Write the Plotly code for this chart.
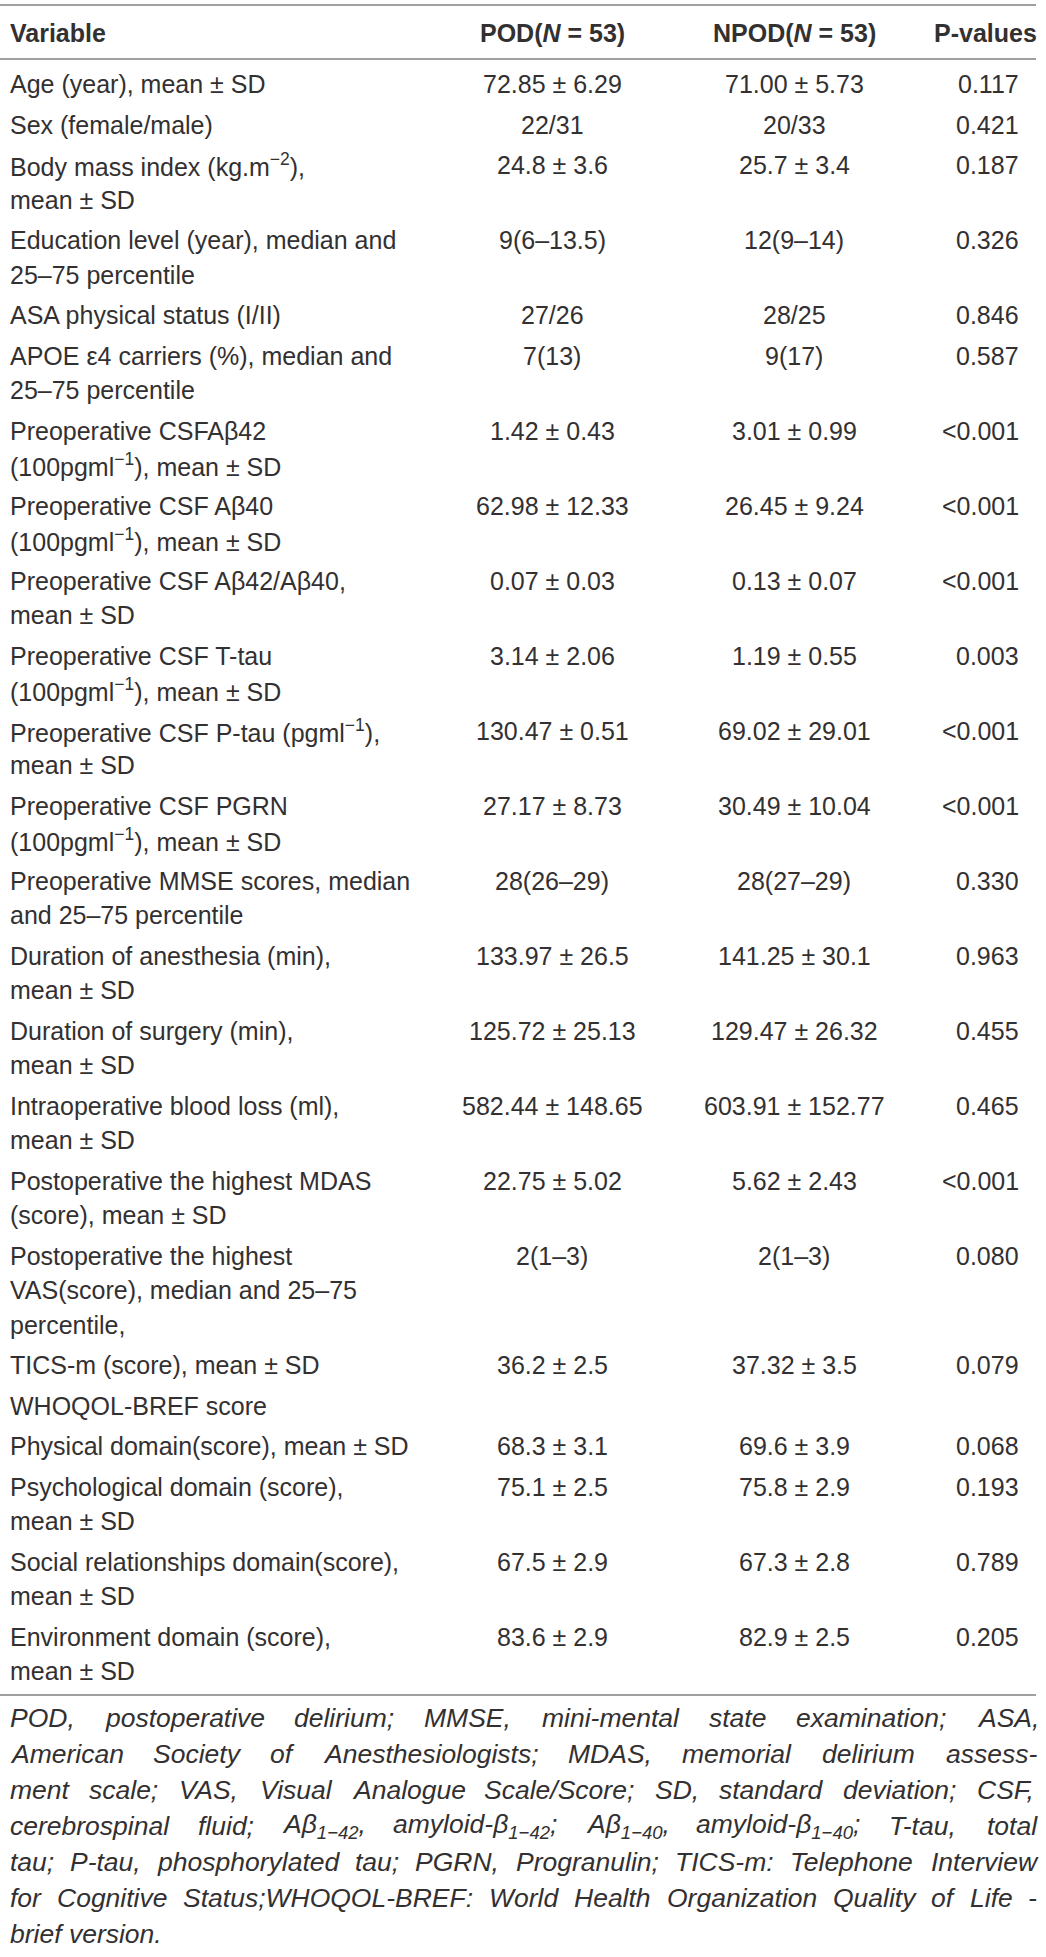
import plotly.graph_objects as go

# table content, one entry per row
variables = [
    "Age (year), mean ± SD",
    "Sex (female/male)",
    "Body mass index (kg.m<sup>−2</sup>),<br>mean ± SD",
    "Education level (year), median and<br>25–75 percentile",
    "ASA physical status (I/II)",
    "APOE ε4 carriers (%), median and<br>25–75 percentile",
    "Preoperative CSFAβ42<br>(100pgml<sup>−1</sup>), mean ± SD",
    "Preoperative CSF Aβ40<br>(100pgml<sup>−1</sup>), mean ± SD",
    "Preoperative CSF Aβ42/Aβ40,<br>mean ± SD",
    "Preoperative CSF T-tau<br>(100pgml<sup>−1</sup>), mean ± SD",
    "Preoperative CSF P-tau (pgml<sup>−1</sup>),<br>mean ± SD",
    "Preoperative CSF PGRN<br>(100pgml<sup>−1</sup>), mean ± SD",
    "Preoperative MMSE scores, median<br>and 25–75 percentile",
    "Duration of anesthesia (min),<br>mean ± SD",
    "Duration of surgery (min),<br>mean ± SD",
    "Intraoperative blood loss (ml),<br>mean ± SD",
    "Postoperative the highest MDAS<br>(score), mean ± SD",
    "Postoperative the highest<br>VAS(score), median and 25–75<br>percentile,",
    "TICS-m (score), mean ± SD",
    "WHOQOL-BREF score",
    "Physical domain(score), mean ± SD",
    "Psychological domain (score),<br>mean ± SD",
    "Social relationships domain(score),<br>mean ± SD",
    "Environment domain (score),<br>mean ± SD",
]

pod = ["72.85 ± 6.29", "22/31", "24.8 ± 3.6", "9(6–13.5)", "27/26", "7(13)",
       "1.42 ± 0.43", "62.98 ± 12.33", "0.07 ± 0.03", "3.14 ± 2.06", "130.47 ± 0.51",
       "27.17 ± 8.73", "28(26–29)", "133.97 ± 26.5", "125.72 ± 25.13",
       "582.44 ± 148.65", "22.75 ± 5.02", "2(1–3)", "36.2 ± 2.5", "",
       "68.3 ± 3.1", "75.1 ± 2.5", "67.5 ± 2.9", "83.6 ± 2.9"]

npod = ["71.00 ± 5.73", "20/33", "25.7 ± 3.4", "12(9–14)", "28/25", "9(17)",
        "3.01 ± 0.99", "26.45 ± 9.24", "0.13 ± 0.07", "1.19 ± 0.55", "69.02 ± 29.01",
        "30.49 ± 10.04", "28(27–29)", "141.25 ± 30.1", "129.47 ± 26.32",
        "603.91 ± 152.77", "5.62 ± 2.43", "2(1–3)", "37.32 ± 3.5", "",
        "69.6 ± 3.9", "75.8 ± 2.9", "67.3 ± 2.8", "82.9 ± 2.5"]

p_values = ["0.117", "0.421", "0.187", "0.326", "0.846", "0.587",
            "&lt;0.001", "&lt;0.001", "&lt;0.001", "0.003", "&lt;0.001", "&lt;0.001",
            "0.330", "0.963", "0.455", "0.465", "&lt;0.001", "0.080", "0.079", "",
            "0.068", "0.193", "0.789", "0.205"]

headers = ["Variable", "POD(<i>N</i> = 53)", "NPOD(<i>N</i> = 53)", "P-values"]

footnote_lines = [
    "POD, postoperative delirium; MMSE, mini-mental state examination; ASA,",
    "American Society of Anesthesiologists; MDAS, memorial delirium assess-",
    "ment scale; VAS, Visual Analogue Scale/Score; SD, standard deviation; CSF,",
    "cerebrospinal fluid; Aβ<sub>1−42</sub>, amyloid-β<sub>1−42</sub>; Aβ<sub>1−40</sub>, amyloid-β<sub>1−40</sub>; T-tau, total",
    "tau; P-tau, phosphorylated tau; PGRN, Progranulin; TICS-m: Telephone Interview",
    "for Cognitive Status;WHOQOL-BREF: World Health Organization Quality of Life -",
    "brief version.",
]

W, H = 1046, 1957
FONT = "Liberation Sans, Arial, Helvetica, sans-serif"
TEXT = "#333031"
RULE = "#a0a0a0"
BODY_SIZE = 25
NOTE_SIZE = 26.5

# Arial / Liberation Sans advance widths (per 1000 em), used to justify the footnote
_widths = {" ": 278, "(": 333, ")": 333, ",": 278, "-": 333, ".": 278, "/": 278,
           ":": 278, ";": 278, "β": 575, "−": 584, "–": 556}
for ch in "0123456789":
    _widths[ch] = 556
for ch, w in zip("ABCDEFGHIJKLMNOPQRSTUVWXYZ",
                 [667, 667, 722, 722, 667, 611, 778, 722, 278, 500, 667, 556, 833,
                  722, 778, 667, 778, 722, 667, 611, 722, 667, 944, 667, 667, 611]):
    _widths[ch] = w
for ch, w in zip("abcdefghijklmnopqrstuvwxyz",
                 [556, 556, 500, 556, 556, 278, 556, 556, 222, 222, 500, 222, 833,
                  556, 556, 556, 556, 333, 500, 278, 556, 500, 722, 500, 500, 500]):
    _widths[ch] = w


def text_width(word, size):
    total = 0
    scale = 1.0
    i = 0
    while i < len(word):
        if word.startswith("<sub>", i):
            scale = 0.7
            i += 5
            continue
        if word.startswith("</sub>", i):
            scale = 1.0
            i += 6
            continue
        total += _widths.get(word[i], 556) * scale
        i += 1
    return total * size / 1000


fig = go.Figure()
annotations = []


def add_text(x, y, text, anchor, size=BODY_SIZE, bold=False, italic=False):
    if not text:
        return
    annotations.append(dict(
        x=x, y=y, xref="x", yref="y", text=text, showarrow=False,
        xanchor=anchor, yanchor="middle",
        font=dict(family=FONT, size=size, color=TEXT,
                  weight="bold" if bold else "normal",
                  style="italic" if italic else "normal"),
    ))


# header row
header_y = 33
add_text(8, header_y, headers[0], "left", bold=True)
add_text(552, header_y, headers[1], "center", bold=True)
add_text(794, header_y, headers[2], "center", bold=True)
add_text(1039, header_y, headers[3], "right", bold=True)

# body rows
line_pitch = 34.5
row_gap = 40.5
y = 84
for var, a, b, p in zip(variables, pod, npod, p_values):
    lines = var.split("<br>")
    for k, line in enumerate(lines):
        add_text(8, y + k * line_pitch, line, "left")
    add_text(552, y, a, "center")
    add_text(794, y, b, "center")
    add_text(1021, y, p, "right")
    y += row_gap + (len(lines) - 1) * line_pitch

# footnote, justified between left and right edges like the printed table
note_left, note_right = 8, 1035
note_y = 1718
note_pitch = 36
for n, line in enumerate(footnote_lines):
    ly = note_y + n * note_pitch
    words = line.split(" ")
    if n == len(footnote_lines) - 1 or len(words) < 2:
        add_text(note_left, ly, line, "left", size=NOTE_SIZE, italic=True)
        continue
    widths = [text_width(w, NOTE_SIZE) for w in words]
    space = text_width(" ", NOTE_SIZE)
    gap = max(space, (note_right - note_left - sum(widths)) / (len(words) - 1))
    x = note_left
    for w, ww in zip(words, widths):
        add_text(x, ly, w, "left", size=NOTE_SIZE, italic=True)
        x += ww + gap

# horizontal rules
for ry in [5, 59, 1695]:
    fig.add_shape(type="line", x0=0, x1=1036, y0=ry, y1=ry, xref="x", yref="y",
                  line=dict(color=RULE, width=2))

fig.update_layout(
    width=W, height=H,
    margin=dict(l=0, r=0, t=0, b=0),
    paper_bgcolor="white", plot_bgcolor="white",
    annotations=annotations,
    showlegend=False,
)
fig.update_xaxes(range=[0, W], visible=False, fixedrange=True)
fig.update_yaxes(range=[H, 0], visible=False, fixedrange=True)

# drop the browser's default body margin so the figure fills the window exactly
fig.write_html("out.html",
               config={"displayModeBar": False, "staticPlot": True},
               post_script="document.body.style.margin='0';document.body.style.overflow='hidden';")
